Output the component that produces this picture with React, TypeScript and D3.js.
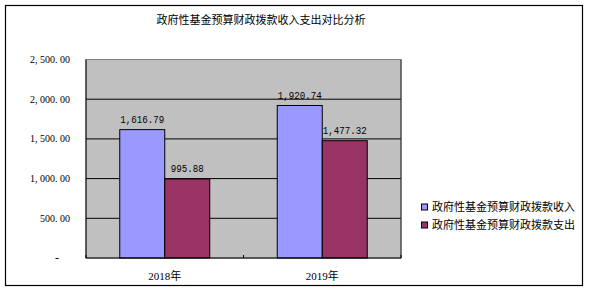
import React from "react";
import * as d3 from "d3";

const title = "政府性基金预算财政拨款收入支出对比分析";
const categories = ["2018年", "2019年"];
const seriesNames = ["政府性基金预算财政拨款收入", "政府性基金预算财政拨款支出"];
const income = [1616.79, 1920.74];
const expense = [995.88, 1477.32];
const yTicks = [0, 500, 1000, 1500, 2000, 2500];
const yTickLabels = ["-", "500. 00", "1, 000. 00", "1, 500. 00", "2, 000. 00", "2, 500. 00"];
const colors = ["#9999FF", "#993366"];

export default function App() {
  const W = 590, H = 293;
  const left = 86, right = 401, top = 59.5, bottom = 258;
  const x = d3.scaleBand<string>().domain(categories).range([left, right]);
  const y = d3.scaleLinear().domain([0, 2500]).range([bottom, top]);
  const barW = 45;
  const series = [income, expense];
  const fmt = d3.format(",.2f");
  const cjk = "'Noto Sans CJK SC', sans-serif";
  const serif = "'Liberation Serif', 'Noto Sans CJK SC', serif";
  const mono = "'Liberation Mono', monospace";

  const barX = (ci: number, si: number) => {
    const c = x(categories[ci])! + x.bandwidth() / 2;
    return c - barW + si * barW;
  };

  return (
    <svg width={W} height={H} style={{ position: "absolute", left: 0, top: 0 }}>
      <rect x={0} y={0} width={W} height={H} fill="#fff" />
      <rect x={5.5} y={5.5} width={577} height={280} fill="#fff" stroke="#000" strokeWidth={1.2} />
      <text x={261} y={24} fontSize={11} fontFamily={cjk} textAnchor="middle" fill="#000">{title}</text>

      <rect x={left} y={top} width={right - left} height={bottom - top} fill="#C0C0C0" stroke="#808080" strokeWidth={1} />

      {series.map((vals, si) =>
        vals.map((v, ci) => {
          const s = fmt(v);
          return (
            <text key={`l${si}-${ci}`} x={barX(ci, si) + barW / 2} y={y(v) - 6.5} fontSize={11} fontFamily={mono}
              textAnchor="middle" textLength={s.length * 5.5} lengthAdjust="spacingAndGlyphs" fill="#000">{s}</text>
          );
        })
      )}

      {yTicks.slice(1, -1).map((t) => (
        <line key={`g${t}`} x1={left} x2={right} y1={y(t)} y2={y(t)} stroke="#000" strokeWidth={1} />
      ))}

      {series.map((vals, si) =>
        vals.map((v, ci) => (
          <rect key={`b${si}-${ci}`} x={barX(ci, si)} y={y(v)} width={barW} height={bottom - y(v)}
            fill={colors[si]} stroke="#000" strokeWidth={1} />
        ))
      )}

      <line x1={left} x2={left} y1={top} y2={bottom} stroke="#000" strokeWidth={1} />
      <line x1={left} x2={right} y1={bottom} y2={bottom} stroke="#000" strokeWidth={1} />
      <line x1={right} x2={right} y1={top} y2={bottom} stroke="#333" strokeWidth={1} />
      {[left, left + x.bandwidth(), right].map((tx, i) => (
        <line key={`xt${i}`} x1={tx} x2={tx} y1={bottom} y2={bottom - 3} stroke="#000" strokeWidth={1} />
      ))}

      {yTicks.map((t, i) => (
        <text key={`yt${t}`} x={i === 0 ? 59 : 70} y={y(t)} dy="0.35em" fontSize={i === 0 ? 12 : 10} fontFamily={serif}
          textAnchor="end" fill="#000">{yTickLabels[i]}</text>
      ))}

      {categories.map((c) => (
        <text key={c} x={x(c)! + x.bandwidth() / 2} y={280} fontSize={11} fontFamily={serif} textAnchor="middle" fill="#000">{c}</text>
      ))}

      {seriesNames.map((n, i) => (
        <g key={n}>
          <rect x={421.5} y={204 + i * 18} width={6} height={6} fill={colors[i]} stroke="#000" strokeWidth={1} />
          <text x={432} y={207 + i * 18} dy="0.38em" fontSize={11} fontFamily={cjk} fill="#000">{n}</text>
        </g>
      ))}
    </svg>
  );
}
